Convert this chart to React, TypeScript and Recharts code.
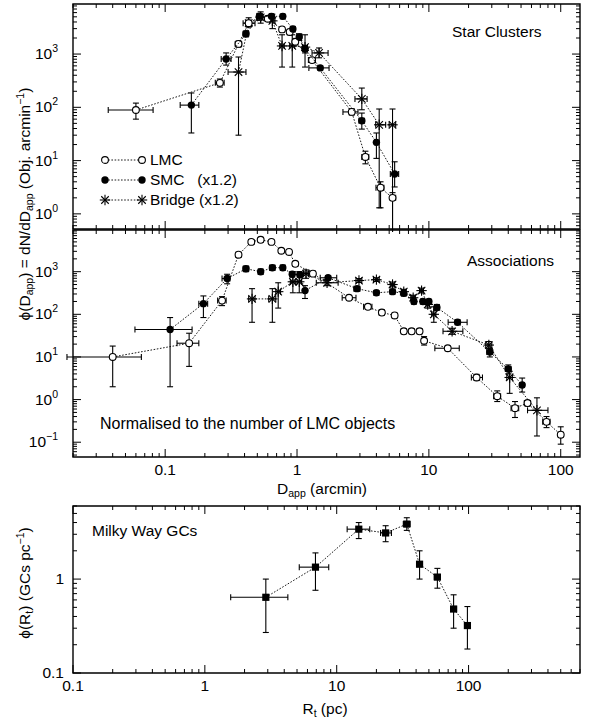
import React from 'react';
import { ScatterChart, Scatter, XAxis, YAxis, ErrorBar, ReferenceArea, Legend } from 'recharts';

const FONT = "'Liberation Sans', Arial, Helvetica, sans-serif";
const FS = 15.5;

// ---------------- Star Clusters (top panel) ----------------
const scLmcD = [0.06, 0.26, 0.36, 0.43, 0.52, 0.6, 0.77, 0.88, 0.97, 1.3, 2.6, 3.3, 4.3, 5.3];
const scLmcPhi = [89, 288, 1550, 3800, 5000, 4600, 2900, 2600, 1700, 770, 82, 11.7, 3.1, 2.0];
const scLmcDLo = [0.037, 0.24, 0.34, 0.41, 0.5, 0.58, 0.75, 0.86, 0.93, 1.22, 2.23, 3.1, 3.97, 5.1];
const scLmcDHi = [0.081, 0.28, 0.38, 0.45, 0.54, 0.62, 0.79, 0.9, 1.01, 1.38, 2.9, 3.5, 4.56, 5.6];
const scLmcPLo = [60, 240, 1350, 3300, 4300, 4100, 2600, 2300, 1500, 700, 72, 8.7, 1.3, 0.4];
const scLmcPHi = [120, 340, 1750, 4300, 5800, 5200, 3200, 2900, 1900, 850, 94, 15, 4.0, 2.5];

const scSmcD = [0.158, 0.29, 0.41, 0.52, 0.64, 0.78, 0.93, 1.04, 1.15, 1.5, 3.1, 4.0, 5.5];
const scSmcPhi = [110, 810, 2400, 5100, 5100, 5100, 2950, 2100, 1250, 550, 56, 22, 5.6];
const scSmcDLo = [0.13, 0.266, 0.39, 0.5, 0.62, 0.76, 0.91, 1.0, 1.1, 1.23, 2.95, 3.9, 5.1];
const scSmcDHi = [0.18, 0.316, 0.43, 0.54, 0.66, 0.8, 0.95, 1.08, 1.2, 1.75, 3.25, 4.1, 5.9];
const scSmcPLo = [33, 620, 2100, 4500, 4600, 4600, 2600, 1800, 1050, 500, 39, 11, 3.2];
const scSmcPHi = [186, 1050, 2700, 5700, 5600, 5600, 3300, 2400, 1450, 600, 78, 33, 9.5];

const scBrD = [0.36, 0.43, 0.53, 0.65, 0.77, 0.92, 1.15, 1.47, 3.1, 4.2, 5.3];
const scBrPhi = [460, 3800, 4900, 4200, 1420, 1420, 1350, 1050, 144, 47, 47];
const scBrDLo = [0.3, 0.39, 0.51, 0.62, 0.74, 0.88, 1.1, 1.3, 2.75, 3.95, 5.0];
const scBrDHi = [0.41, 0.48, 0.55, 0.68, 0.8, 0.96, 1.2, 1.72, 3.4, 4.7, 5.6];
const scBrPLo = [30, 3200, 3800, 3000, 570, 570, 570, 850, 90, 1.3, 0.3];
const scBrPHi = [880, 4800, 6200, 5600, 2300, 2300, 2300, 1300, 230, 93, 93];

// ---------------- Associations (middle panel) ----------------
const asLmcD = [0.04, 0.152, 0.27, 0.36, 0.45, 0.53, 0.64, 0.76, 0.87, 0.97, 1.32, 2.48, 3.45, 4.4, 5.5, 6.45, 7.4, 8.5, 9.2, 13.9, 23, 33, 45, 56, 78, 100];
const asLmcPhi = [10, 21, 210, 2500, 5000, 5600, 5000, 3100, 2900, 1530, 900, 245, 150, 110, 94, 40, 40, 40, 24, 16, 3.3, 1.2, 0.63, 0.83, 0.3, 0.15];
const asLmcDLo = [0.018, 0.123, 0.25, 0.345, 0.43, 0.51, 0.62, 0.74, 0.85, 0.95, 1.26, 2.2, 3.2, 4.2, 5.3, 6.3, 7.2, 8.3, 8.9, 11.1, 21, 31, 42, 53, 73, 96];
const asLmcDHi = [0.066, 0.18, 0.29, 0.375, 0.47, 0.55, 0.66, 0.78, 0.89, 0.99, 1.38, 2.8, 3.7, 4.6, 5.7, 6.6, 7.6, 8.7, 9.5, 17, 25.5, 35, 48, 59, 83, 104];
const asLmcPLo = [2, 6, 160, 2200, 4500, 5000, 4500, 2800, 2600, 1350, 800, 220, 135, 97, 83, 35, 35, 35, 19, 14, 2.8, 0.9, 0.38, 0.7, 0.22, 0.09];
const asLmcPHi = [18, 36, 260, 2800, 5500, 6200, 5500, 3400, 3200, 1700, 1000, 270, 165, 125, 106, 46, 46, 46, 30, 18, 3.9, 1.6, 0.9, 0.95, 0.4, 0.23];

const asSmcD = [0.109, 0.195, 0.295, 0.41, 0.53, 0.65, 0.78, 0.92, 1.05, 1.15, 1.72, 2.85, 4.0, 5.3, 6.45, 7.7, 9.0, 10, 11.5, 16.5, 29, 40, 51];
const asSmcPhi = [44, 178, 690, 1170, 1000, 1240, 1240, 870, 850, 360, 720, 400, 320, 340, 310, 200, 200, 200, 145, 65, 13, 5.2, 2.2];
const asSmcDLo = [0.059, 0.18, 0.27, 0.39, 0.51, 0.62, 0.75, 0.89, 1.02, 1.12, 1.5, 2.7, 3.85, 5.1, 6.2, 7.4, 8.7, 9.7, 11.1, 14, 27.5, 38, 49];
const asSmcDHi = [0.16, 0.21, 0.31, 0.43, 0.55, 0.68, 0.81, 0.95, 1.08, 1.18, 2.0, 3.0, 4.15, 5.5, 6.7, 8.0, 9.3, 10.3, 11.9, 19.5, 30.5, 42, 53];
const asSmcPLo = [2, 84, 520, 1000, 870, 1080, 1080, 750, 740, 235, 640, 350, 280, 300, 270, 175, 175, 175, 125, 57, 10, 4, 1.5];
const asSmcPHi = [84, 270, 870, 1350, 1150, 1420, 1420, 1000, 980, 470, 810, 450, 360, 385, 350, 225, 225, 225, 170, 75, 16, 6.5, 3.2];

const asBrD = [0.456, 0.65, 0.72, 0.93, 1.04, 1.17, 1.69, 2.95, 4.0, 5.3, 6.45, 7.6, 8.8, 9.8, 10.9, 15, 28.5, 41, 66];
const asBrPhi = [230, 230, 340, 580, 580, 900, 550, 620, 650, 500, 340, 245, 360, 170, 100, 40, 19, 3.3, 0.56];
const asBrDLo = [0.43, 0.61, 0.69, 0.89, 1.0, 1.12, 1.4, 2.8, 3.8, 5.1, 6.2, 7.3, 8.5, 9.5, 10.5, 12.8, 27, 39, 56];
const asBrDHi = [0.48, 0.69, 0.75, 0.97, 1.08, 1.22, 2.05, 3.1, 4.2, 5.5, 6.7, 7.9, 9.1, 10.1, 11.3, 18.1, 30, 43, 80];
const asBrPLo = [65, 65, 140, 320, 320, 700, 470, 560, 590, 440, 300, 215, 320, 140, 65, 34, 16, 1.4, 0.14];
const asBrPHi = [400, 400, 550, 1000, 1000, 1100, 640, 690, 720, 570, 385, 280, 410, 210, 150, 47, 23, 4.6, 1.1];

// ---------------- Milky Way GCs (bottom panel) ----------------
const gcR = [2.9, 6.9, 14.7, 23.5, 34, 42.5, 58, 77, 98];
const gcPhi = [0.64, 1.34, 3.4, 3.1, 3.85, 1.44, 1.05, 0.48, 0.32];
const gcRLo = [1.57, 5.2, 12, 21.5, 32, 41, 55, 73, 96];
const gcRHi = [4.26, 8.7, 17.8, 26, 36, 44, 61, 81, 100];
const gcPLo = [0.27, 0.76, 2.7, 2.5, 3.3, 1.0, 0.8, 0.3, 0.18];
const gcPHi = [1.0, 1.9, 4.0, 3.7, 4.5, 2.0, 1.3, 0.68, 0.51];

// ---------------- axes ----------------
const xDomainD: [number, number] = [0.02, 140];
const yDomainSC: [number, number] = [0.52, 8700];
const yDomainAS: [number, number] = [0.045, 9500];
const xDomainR: [number, number] = [0.1, 700];
const yDomainGC: [number, number] = [0.1, 6];
const decadesD = [0.01, 0.1, 1, 10, 100];
const decadesY = [0.01, 0.1, 1, 10, 100, 1000];
const decadesR = [0.1, 1, 10, 100];
const decadesGC = [0.1, 1];
const tickMults = [1, 2, 3, 4, 5, 6, 7, 8, 9];
const legendLabels = ['LMC', 'SMC   (x1.2)', 'Bridge (x1.2)'];

type Row = { x: number; y: number; ex: [number, number]; ey: [number, number] };
function mkRows(d: number[], p: number[], dLo: number[], dHi: number[], pLo: number[], pHi: number[]): Row[] {
  return d.map((x, i) => ({ x, y: p[i], ex: [x - dLo[i], dHi[i] - x], ey: [p[i] - pLo[i], pHi[i] - p[i]] }));
}
function logTicks(decades: number[], dom: [number, number]) {
  const out: number[] = [];
  decades.forEach((d) => tickMults.forEach((m) => {
    const v = +(d * m).toPrecision(6);
    if (v >= dom[0] * 0.9999 && v <= dom[1] * 1.0001) out.push(v);
  }));
  return out;
}
const isMajor = (v: number) => Math.abs(Math.log10(v) - Math.round(Math.log10(v))) < 1e-6;

const expFmt = (v: number) => {
  const e = Math.round(Math.log10(v));
  return (
    <>
      10<tspan dy={-7} fontSize={10.5}>{e < 0 ? '\u2212' + -e : String(e)}</tspan>
    </>
  );
};
const plainFmt = (v: number) => <>{String(v)}</>;

function XTick(props: any) {
  const { x, y, payload, plotH, showLabel, fmt } = props;
  const v = payload.value;
  const major = isMajor(v);
  const len = major ? 8 : 4;
  return (
    <g>
      <line x1={x} x2={x} y1={y} y2={y - len} stroke="#000" strokeWidth={1} />
      <line x1={x} x2={x} y1={y - plotH} y2={y - plotH + len} stroke="#000" strokeWidth={1} />
      {showLabel && major ? (
        <text x={x} y={y + 18} textAnchor="middle" fontSize={FS} fontFamily={FONT} fill="#000">{fmt(v)}</text>
      ) : null}
    </g>
  );
}
function YTick(props: any) {
  const { x, y, payload, plotW, fmt, labelGap } = props;
  const v = payload.value;
  const major = isMajor(v);
  const len = major ? 8 : 4;
  return (
    <g>
      <line x1={x} x2={x + len} y1={y} y2={y} stroke="#000" strokeWidth={1} />
      <line x1={x + plotW} x2={x + plotW - len} y1={y} y2={y} stroke="#000" strokeWidth={1} />
      {major ? (
        <text x={x - labelGap} y={y + 5} textAnchor="end" fontSize={FS} fontFamily={FONT} fill="#000">{fmt(v)}</text>
      ) : null}
    </g>
  );
}

const OpenCircle = (p: any) => <circle cx={p.cx} cy={p.cy} r={3.4} fill="#fff" stroke="#000" strokeWidth={1.1} />;
const FilledCircle = (p: any) => <circle cx={p.cx} cy={p.cy} r={3.7} fill="#000" />;
const StarShape = (p: any) => {
  const r = 5.2;
  const d = r * 0.72;
  return (
    <g stroke="#000" strokeWidth={1.1}>
      <line x1={p.cx - r} x2={p.cx + r} y1={p.cy} y2={p.cy} />
      <line x1={p.cx} x2={p.cx} y1={p.cy - r} y2={p.cy + r} />
      <line x1={p.cx - d} x2={p.cx + d} y1={p.cy - d} y2={p.cy + d} />
      <line x1={p.cx - d} x2={p.cx + d} y1={p.cy + d} y2={p.cy - d} />
    </g>
  );
};
const SquareShape = (p: any) => <rect x={p.cx - 3.6} y={p.cy - 3.6} width={7.2} height={7.2} fill="#000" />;

const lineStyle = { stroke: '#000', strokeWidth: 0.9, strokeDasharray: '1.6 1.6' };

function series(name: string, data: Row[], shape: any) {
  return (
    <Scatter key={name} name={name} data={data} shape={shape} isAnimationActive={false} line={lineStyle} lineType="joint">
      <ErrorBar dataKey="ex" direction="x" width={3} stroke="#000" strokeWidth={1.1} isAnimationActive={false} />
      <ErrorBar dataKey="ey" direction="y" width={3} stroke="#000" strokeWidth={1.1} isAnimationActive={false} />
    </Scatter>
  );
}

function LegendBox() {
  const shapes = [OpenCircle, FilledCircle, StarShape];
  return (
    <div style={{ fontFamily: FONT, fontSize: FS, color: '#000' }}>
      {legendLabels.map((lab, i) => {
        const S = shapes[i];
        return (
          <div key={lab} style={{ display: 'flex', alignItems: 'center', height: 20 }}>
            <svg width={48} height={20} style={{ overflow: 'visible' }}>
              <line x1={7} x2={44} y1={10} y2={10} {...lineStyle} />
              <S cx={7} cy={10} />
              <S cx={44} cy={10} />
            </svg>
            <span style={{ whiteSpace: 'pre', marginLeft: 4 }}>{lab}</span>
          </div>
        );
      })}
    </div>
  );
}

type PanelProps = {
  top: number; height: number; margin: { top: number; right: number; bottom: number; left: number };
  xDomain: [number, number]; yDomain: [number, number]; xDecades: number[]; yDecades: number[];
  xAxisHeight: number; showXLabels: boolean; xFmt: (v: number) => any; yFmt: (v: number) => any; labelGap: number;
  children?: any;
};
function Panel(pp: PanelProps) {
  const width = 593;
  const yAxisW = 60;
  const plotW = width - pp.margin.left - pp.margin.right - yAxisW;
  const plotH = pp.height - pp.margin.top - pp.margin.bottom - pp.xAxisHeight;
  return (
    <div style={{ position: 'absolute', left: 0, top: pp.top }}>
      <ScatterChart width={width} height={pp.height} margin={pp.margin}>
        <XAxis type="number" dataKey="x" scale="log" domain={pp.xDomain} allowDataOverflow ticks={logTicks(pp.xDecades, pp.xDomain)} interval={0}
          height={pp.xAxisHeight} tickSize={0} tickMargin={0} tickLine={false} axisLine={false}
          tick={(p: any) => <XTick {...p} plotH={plotH} showLabel={pp.showXLabels} fmt={pp.xFmt} />} />
        <YAxis type="number" dataKey="y" scale="log" domain={pp.yDomain} allowDataOverflow ticks={logTicks(pp.yDecades, pp.yDomain)} interval={0}
          width={yAxisW} tickSize={0} tickMargin={0} tickLine={false} axisLine={false}
          tick={(p: any) => <YTick {...p} plotW={plotW} fmt={pp.yFmt} labelGap={pp.labelGap} />} />
        <ReferenceArea x1={pp.xDomain[0]} x2={pp.xDomain[1]} y1={pp.yDomain[0]} y2={pp.yDomain[1]} fill="none" fillOpacity={0} stroke="#000" strokeWidth={1.4} ifOverflow="visible" />
        {pp.children}
      </ScatterChart>
    </div>
  );
}

export default function App() {
  const scLmc = mkRows(scLmcD, scLmcPhi, scLmcDLo, scLmcDHi, scLmcPLo, scLmcPHi);
  const scSmc = mkRows(scSmcD, scSmcPhi, scSmcDLo, scSmcDHi, scSmcPLo, scSmcPHi);
  const scBr = mkRows(scBrD, scBrPhi, scBrDLo, scBrDHi, scBrPLo, scBrPHi);
  const asLmc = mkRows(asLmcD, asLmcPhi, asLmcDLo, asLmcDHi, asLmcPLo, asLmcPHi);
  const asSmc = mkRows(asSmcD, asSmcPhi, asSmcDLo, asSmcDHi, asSmcPLo, asSmcPHi);
  const asBr = mkRows(asBrD, asBrPhi, asBrDLo, asBrDHi, asBrPLo, asBrPHi);
  const gc = mkRows(gcR, gcPhi, gcRLo, gcRHi, gcPLo, gcPHi);

  const txt = { fontFamily: FONT, fontSize: FS, fill: '#000' } as any;

  return (
    <div style={{ position: 'absolute', left: 0, top: 0, width: 593, height: 722, background: '#fff', fontFamily: FONT }}>
      <Panel top={0} height={232} margin={{ top: 4, right: 13, bottom: 2, left: 13 }} xDomain={xDomainD} yDomain={yDomainSC}
        xDecades={decadesD} yDecades={decadesY} xAxisHeight={1} showXLabels={false} xFmt={plainFmt} yFmt={expFmt} labelGap={15}>
        {series('Bridge', scBr, StarShape)}
        {series('LMC', scLmc, OpenCircle)}
        {series('SMC', scSmc, FilledCircle)}
        <Legend layout="vertical" align="center" verticalAlign="middle" content={() => <LegendBox />}
          wrapperStyle={{ position: 'absolute', left: 98, top: 150, width: 200, height: 60 }} />
      </Panel>
      <Panel top={225} height={275} margin={{ top: 5, right: 13, bottom: 0, left: 13 }} xDomain={xDomainD} yDomain={yDomainAS}
        xDecades={decadesD} yDecades={decadesY} xAxisHeight={43} showXLabels={true} xFmt={plainFmt} yFmt={expFmt} labelGap={15}>
        {series('Bridge', asBr, StarShape)}
        {series('LMC', asLmc, OpenCircle)}
        {series('SMC', asSmc, FilledCircle)}
      </Panel>
      <Panel top={495} height={227} margin={{ top: 11, right: 13, bottom: 0, left: 13 }} xDomain={xDomainR} yDomain={yDomainGC}
        xDecades={decadesR} yDecades={decadesGC} xAxisHeight={49} showXLabels={true} xFmt={plainFmt} yFmt={plainFmt} labelGap={9}>
        {series('GCs', gc, SquareShape)}
      </Panel>
      <svg width={593} height={722} style={{ position: 'absolute', left: 0, top: 0, pointerEvents: 'none' }}>
        <text x={452} y={37} {...txt}>Star Clusters</text>
        <text x={467} y={266} {...txt}>Associations</text>
        <text x={100} y={429} {...txt} fontSize={16}>Normalised to the number of LMC objects</text>
        <text x={92} y={536} {...txt}>Milky Way GCs</text>
        <text x={322} y={494} textAnchor="middle" {...txt}>D<tspan dy={3} fontSize={10.5}>app</tspan><tspan dy={-3}> (arcmin)</tspan></text>
        <text x={325} y={714} textAnchor="middle" {...txt}>R<tspan dy={3} fontSize={10.5}>t</tspan><tspan dy={-3}> (pc)</tspan></text>
        <text transform="translate(30,204) rotate(-90)" textAnchor="middle" {...txt}>
          {'\u03D5(D'}<tspan dy={3} fontSize={10.5}>app</tspan><tspan dy={-3}>{') = dN/dD'}</tspan><tspan dy={3} fontSize={10.5}>app</tspan><tspan dy={-3}>{' (Obj. arcmin'}</tspan><tspan dy={-6} fontSize={10.5}>{'\u22121'}</tspan><tspan dy={6}>)</tspan>
        </text>
        <text transform="translate(30,583) rotate(-90)" textAnchor="middle" {...txt}>
          {'\u03D5(R'}<tspan dy={3} fontSize={10.5}>t</tspan><tspan dy={-3}>{') (GCs pc'}</tspan><tspan dy={-6} fontSize={10.5}>{'\u22121'}</tspan><tspan dy={6}>)</tspan>
        </text>
      </svg>
    </div>
  );
}
